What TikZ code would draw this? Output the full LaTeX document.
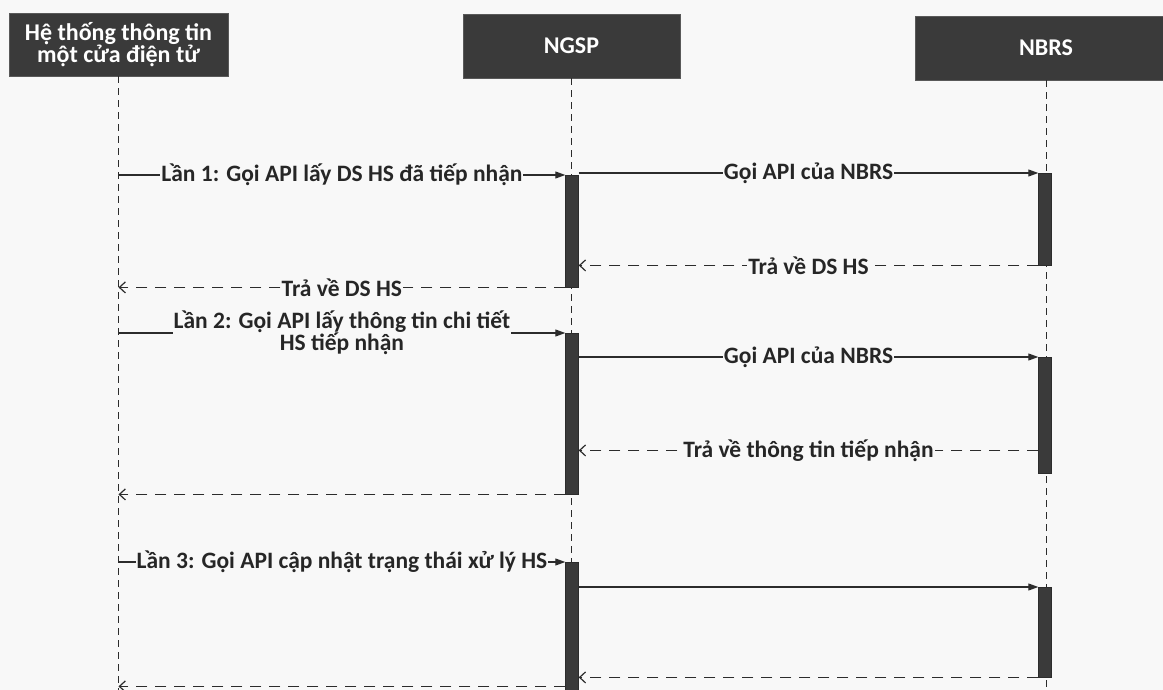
\documentclass[tikz,border=0pt]{standalone}
\usepackage{fontspec}
\setmainfont{Carlito}
\usepackage{xcolor}
\usepackage{tikz}
\usetikzlibrary{positioning,arrows.meta}
\definecolor{headfill}{HTML}{3A3A3A}
\definecolor{inkgray}{HTML}{2C2C2C}
\definecolor{paper}{HTML}{F8F8F8}

\begin{document}
\begin{tikzpicture}[
    x=1pt, y=-1pt,
    font=\fontsize{23.5}{22}\selectfont\bfseries,
    head/.style={
        rectangle, draw=gray!70!black, fill=headfill, text=white,
        align=center, minimum height=64pt, inner sep=0pt,
        font=\fontsize{24}{20.5}\selectfont\bfseries
    },
    actbar/.style={rectangle, draw=inkgray, fill=headfill, minimum width=13pt, inner sep=0pt, anchor=north},
    lifeline/.style={draw=inkgray, line width=1pt, dash pattern=on 7pt off 5pt},
    call/.style={draw=inkgray, line width=1.1pt, -{Triangle[length=10pt,width=7pt]}},
    reply/.style={draw=inkgray, line width=1.2pt, dash pattern=on 11pt off 8pt, -{Straight Barb[length=6pt,width=11pt]}},
    lbl/.style={fill=paper, text=black!85, inner sep=1pt, align=center}
]
    \fill [paper] (0,0) rectangle (1163,690);
    \useasboundingbox (0,0) rectangle (1163,690);

    \node [head, minimum width=219pt, minimum height=63pt] (hethong) at (118.5,44.5) {Hệ thống thông tin\\một cửa điện tử};
    \node [head, minimum width=217pt] (ngsp) at (571.5,46) {NGSP};
    \node [head, minimum width=262pt] (nbrs) at (1046,48) {NBRS};
    \coordinate (floor) at (0,692);

    \path [lifeline] (hethong.south) -- (hethong.south |- floor);
    \path [lifeline] (ngsp.south) -- (ngsp.south |- floor);
    \path [lifeline] (nbrs.south) -- (nbrs.south |- floor);

    \node [actbar, minimum height=112pt] (ngspA) at (572,175) {};
    \node [actbar, minimum height=92pt] (nbrsA) at (1045,173) {};
    \node [actbar, minimum height=161pt] (ngspB) at (572,333) {};
    \node [actbar, minimum height=116pt] (nbrsB) at (1045,357) {};
    \node [actbar, minimum height=132pt] (ngspC) at (572,562) {};
    \node [actbar, minimum height=90pt] (nbrsC) at (1045,587) {};
    \coordinate (backB) at ([yshift=23pt]nbrsB.south west);
    \coordinate (backC) at ([yshift=8pt]ngspC.south west);

    \path [call] (hethong.south |- ngspA.north) -- node [lbl] {Lần 1: Gọi API lấy DS HS đã tiếp nhận} (ngspA.north west);
    \path [call] (ngspA.east |- nbrsA.north) -- node [lbl] {Gọi API của NBRS} (nbrsA.north west);
    \path [reply] (nbrsA.south west) -- node [lbl] {Trả về DS HS} (ngspA.east |- nbrsA.south);
    \path [reply] (ngspA.south west) -- node [lbl] {Trả về DS HS} (hethong.south |- ngspA.south);

    \path [call] (hethong.south |- ngspB.north) -- node [lbl] {Lần 2: Gọi API lấy thông tin chi tiết\\HS tiếp nhận} (ngspB.north west);
    \path [call] (ngspB.east |- nbrsB.north) -- node [lbl] {Gọi API của NBRS} (nbrsB.north west);
    \path [reply] (backB) -- node [lbl] {Trả về thông tin tiếp nhận} (ngspB.east |- backB);
    \path [reply] (ngspB.south west) -- (hethong.south |- ngspB.south);

    \path [call] (hethong.south |- ngspC.north) -- node [lbl] {Lần 3: Gọi API cập nhật trạng thái xử lý HS} (ngspC.north west);
    \path [call] (ngspC.east |- nbrsC.north) -- (nbrsC.north west);
    \path [reply] (nbrsC.south west) -- (ngspC.east |- nbrsC.south);
    \path [reply] (backC) -- (hethong.south |- backC);
\end{tikzpicture}
\end{document}
